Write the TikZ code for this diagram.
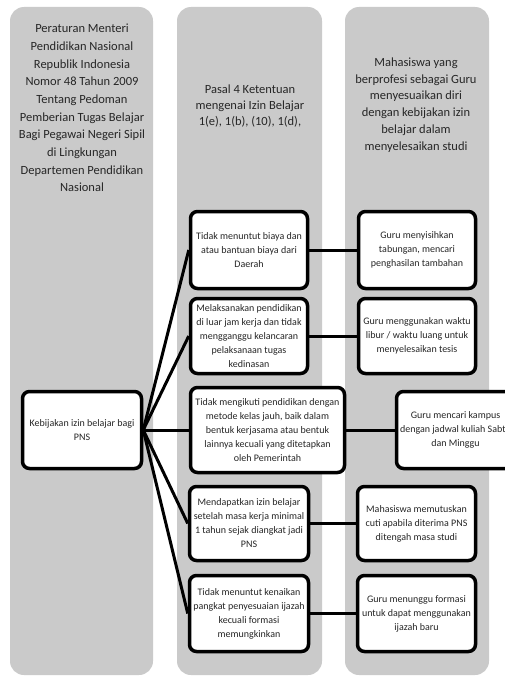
\documentclass[tikz,border=0pt]{standalone}
\usepackage{fontspec}
\setmainfont{Carlito}
\definecolor{colgray}{RGB}{202,202,202}
\definecolor{txt}{RGB}{38,38,38}
\begin{document}
\begin{tikzpicture}[x=1pt,y=-1pt,
  col/.style={fill=colgray, draw=none, rounded corners=14pt},
  hdr/.style={align=center, text=txt, inner sep=0pt},
  box/.style={draw=black, line width=3.5pt, rounded corners=7pt, fill=white, align=center,
    text=txt, font=\fontsize{10}{14}\selectfont, inner sep=1pt},
  link/.style={line width=3pt}
]
\useasboundingbox (0,0) rectangle (505,677);
\fill[white] (0,0) rectangle (505,677);
\clip (0,0) rectangle (505,677);
% columns
\fill[col] (10,7) rectangle (153,675);
\fill[col] (177,7) rectangle (322,675);
\fill[col] (345,7) rectangle (489,675);
% headers
\node[hdr, font=\fontsize{12.5}{17.7}\selectfont] (h1) at (82,108)
 {Peraturan Menteri\\Pendidikan Nasional\\Republik Indonesia\\Nomor 48 Tahun 2009\\Tentang Pedoman\\Pemberian Tugas Belajar\\Bagi Pegawai Negeri Sipil\\di Lingkungan\\Departemen Pendidikan\\Nasional};
\node[hdr, font=\fontsize{12.5}{16}\selectfont] (h2) at (250,106)
 {Pasal 4 Ketentuan\\mengenai Izin Belajar\\1(e), 1(b), (10), 1(d),};
\node[hdr, font=\fontsize{12.5}{16.7}\selectfont] (h3) at (416,105)
 {Mahasiswa yang\\berprofesi sebagai Guru\\menyesuaikan diri\\dengan kebijakan izin\\belajar dalam\\menyelesaikan studi};
% boxes
\node[box, minimum width=119pt, minimum height=77pt] (keb) at (82,430)
 {Kebijakan izin belajar bagi\\PNS};
\node[box, minimum width=117pt, minimum height=77pt] (m1) at (249,250)
 {Tidak menuntut biaya dan\\atau bantuan biaya dari\\Daerah};
\node[box, minimum width=117pt, minimum height=75pt] (m2) at (249,336)
 {Melaksanakan pendidikan\\di luar jam kerja dan tidak\\mengganggu kelancaran\\pelaksanaan tugas\\kedinasan};
\node[box, minimum width=154pt, minimum height=85pt] (m3) at (267.5,430)
 {Tidak mengikuti pendidikan dengan\\metode kelas jauh, baik dalam\\bentuk kerjasama atau bentuk\\lainnya kecuali yang ditetapkan\\oleh Pemerintah};
\node[box, minimum width=119pt, minimum height=74pt] (m4) at (249,523.5)
 {Mendapatkan izin belajar\\setelah masa kerja minimal\\1 tahun sejak diangkat jadi\\PNS};
\node[box, minimum width=119pt, minimum height=76pt] (m5) at (249,613.5)
 {Tidak menuntut kenaikan\\pangkat penyesuaian ijazah\\kecuali formasi\\memungkinkan};
\node[box, minimum width=117pt, minimum height=77pt] (r1) at (417,250)
 {Guru menyisihkan\\tabungan, mencari\\penghasilan tambahan};
\node[box, minimum width=117pt, minimum height=75pt] (r2) at (417,336)
 {Guru menggunakan waktu\\libur / waktu luang untuk\\menyelesaikan tesis};
\node[box, minimum width=118pt, minimum height=77pt] (r3) at (455.5,430)
 {Guru mencari kampus\\dengan jadwal kuliah Sabtu\\dan Minggu};
\node[box, minimum width=118pt, minimum height=74pt] (r4) at (416.5,523.5)
 {Mahasiswa memutuskan\\cuti apabila diterima PNS\\ditengah masa studi};
\node[box, minimum width=118pt, minimum height=76pt] (r5) at (416.5,613.5)
 {Guru menunggu formasi\\untuk dapat menggunakan\\ijazah baru};
% connectors
\foreach \m in {m1,m2,m3,m4,m5}
  \draw[link] (keb.east) -- (\m.west);
\draw[link] (m1.east) -- (r1.west);
\draw[link] (m2.east) -- (r2.west);
\draw[link] (m3.east) -- (r3.west);
\draw[link] (m4.east) -- (r4.west);
\draw[link] (m5.east) -- (r5.west);
\end{tikzpicture}
\end{document}
